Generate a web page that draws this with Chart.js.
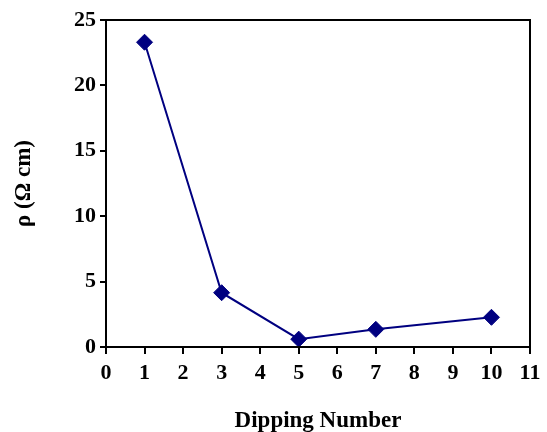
<!DOCTYPE html>
<html lang="en">
<head>
    <meta charset="UTF-8">
    <title>Dipping</title>
    <script src="https://cdn.jsdelivr.net/npm/chart.js@4"></script>
    <style>
        html, body { margin: 0; padding: 0; background: #fff; }
        #wrap { width: 547px; height: 432px; }
    </style>
</head>
<body>
    <div id="wrap"><canvas id="myChart"></canvas></div>
    <script>
        // values
        var dipping = [1, 3, 5, 7, 10];
        var rho = [23.3, 4.15, 0.6, 1.35, 2.27];
        var xTicks = [0, 11, 1];
        var yTicks = [0, 25, 5];

        var points = [];
        for (var i = 0; i < dipping.length; i++) {
            points.push({x: dipping[i], y: rho[i]});
        }

        var fontTick = {family: 'Liberation Serif', size: 22, weight: 'bold'};
        var fontTitle = {family: 'Liberation Serif', size: 23, weight: 'bold'};

        // box round the plot area
        var frame = {
            id: 'frame',
            afterDraw: function (chart) {
                var a = chart.chartArea, c = chart.ctx;
                c.save();
                c.strokeStyle = '#000';
                c.lineWidth = 2;
                c.strokeRect(a.left, a.top, a.right - a.left, a.bottom - a.top);
                c.restore();
            }
        };

        new Chart(document.getElementById('myChart'), {
            type: 'scatter',
            data: {
                datasets: [{
                    data: points,
                    showLine: true,
                    borderColor: '#000080',
                    backgroundColor: '#000080',
                    borderWidth: 2,
                    pointStyle: 'rectRot',
                    pointRadius: 8,
                    pointHoverRadius: 8,
                    pointBorderWidth: 1
                }]
            },
            options: {
                responsive: true,
                maintainAspectRatio: false,
                animation: false,
                layout: {padding: {left: 0, top: 20, right: 17, bottom: 0}},
                plugins: {legend: {display: false}, tooltip: {enabled: false}},
                scales: {
                    x: {
                        type: 'linear',
                        min: xTicks[0], max: xTicks[1],
                        afterFit: function (s) { s.height = 85; },
                        ticks: {stepSize: xTicks[2], color: '#000', font: fontTick, padding: 6},
                        grid: {drawOnChartArea: false, color: '#000', tickLength: 7, lineWidth: 2},
                        border: {color: '#000', width: 2},
                        title: {display: true, text: 'Dipping Number', color: '#000', font: fontTitle, padding: {top: 0, bottom: -3}}
                    },
                    y: {
                        min: yTicks[0], max: yTicks[1],
                        afterFit: function (s) { s.width = 106; },
                        ticks: {stepSize: yTicks[2], color: '#000', font: fontTick, padding: 4},
                        grid: {drawOnChartArea: false, color: '#000', tickLength: 6, lineWidth: 2},
                        border: {color: '#000', width: 2},
                        title: {display: true, text: 'ρ (Ω cm)', color: '#000', font: fontTitle, padding: {top: 10, bottom: 0}}
                    }
                }
            },
            plugins: [frame]
        });
    </script>
</body>
</html>
